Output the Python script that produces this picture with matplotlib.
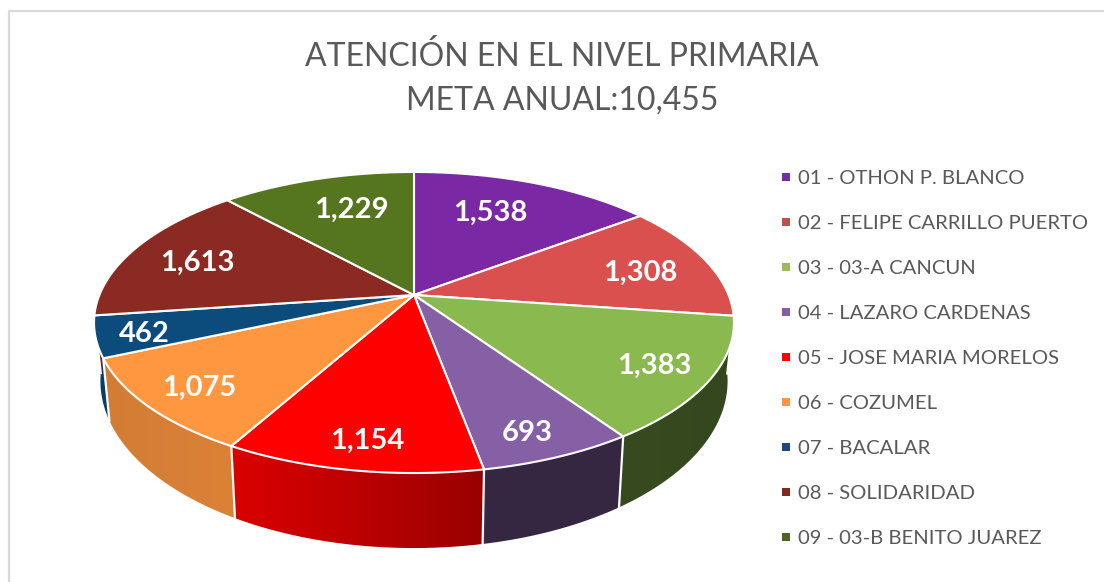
import numpy as np
from matplotlib import pyplot as plt
from matplotlib.colors import to_rgb
from matplotlib.patches import Polygon

# datos
municipios = ['01 - OTHON P. BLANCO', '02 - FELIPE CARRILLO PUERTO', '03 - 03-A CANCUN',
              '04 - LAZARO CARDENAS', '05 - JOSE MARIA MORELOS', '06 - COZUMEL',
              '07 - BACALAR', '08 - SOLIDARIDAD', '09 - 03-B BENITO JUAREZ']
valores = [1538, 1308, 1383, 693, 1154, 1075, 462, 1613, 1229]
colores = ['#7B28A4', '#D9504E', '#8ABA4F', '#8660A5', '#FF0000',
           '#FF9740', '#0B4C7C', '#8A2A22', '#55761F']
colores_leyenda = ['#7030A0', '#C0504D', '#9BBB59', '#8064A2', '#FF0000',
                   '#F79646', '#1F497D', '#7F2A20', '#4F6228']
pos_etiquetas = [(490, 211), (640, 271), (654, 364), (527, 431), (367, 439),
                 (199, 386), (144, 332), (197, 261), (351, 208)]

plt.rcParams['font.family'] = ['Lato', 'DejaVu Sans']
GRIS = '#595959'

fig = plt.figure(figsize=(11.04, 5.82), dpi=100)
ax = fig.add_axes([0, 0, 1, 1])
ax.axis('off')

# marco del grafico (sin lado derecho ni inferior, quedan fuera del recorte)
ax.plot([8.5, 8.5, 1104], [582, 10.5, 10.5], c='#D9D9D9', lw=1.6)

# perspectiva: circulo unidad -> pixeles
CX, CY, K, A, B = 414, 295, 0.1827, 145.5, 314.6


def tapa(t):
    x, y = np.sin(t), np.cos(t)
    w = 1 + K * y
    return CX + B * x / w, CY - A * y / w


def base(t):
    x, y = tapa(t)
    return CX + 0.98 * (x - CX), y + 75 - 0.11 * (473 - y)


def sombra(x):
    return np.interp(x, [95, 230, 414, 481, 486, 620, 734],
                     [0.82, 0.86, 0.68, 0.60, 0.40, 0.40, 0.38])


total = sum(valores)
limites = 2 * np.pi * np.cumsum([0] + valores) / total

# paredes laterales, con degradado horizontal recortado a cada porcion
columnas = np.arange(90, 740)
for i, color in enumerate(colores):
    t = np.linspace(limites[i], limites[i + 1], 80)
    if np.cos(t).min() > 0.2:
        continue
    xt, yt = tapa(t)
    xb, yb = base(t)
    pared = Polygon(np.c_[np.r_[xt, xb[::-1]], np.r_[yt, yb[::-1]]], transform=ax.transData,
                    fc='none', ec='none')
    ax.add_patch(pared)
    degradado = np.array(to_rgb(color))[None, None, :] * sombra(columnas)[None, :, None]
    im = ax.imshow(degradado, extent=(90, 740, 560, 300), aspect='auto', zorder=2,
                   interpolation='bilinear')
    im.set_clip_path(pared)

ax.set_xlim(0, 1104)
ax.set_ylim(582, 0)

# lineas blancas entre paredes (solo las del frente)
for ang in limites[:-1]:
    if np.cos(ang) < 0:
        xt, yt = tapa(ang)
        xb, yb = base(ang)
        ax.plot([xt, xb], [yt, yb], c='white', lw=1.6, zorder=3)

# tapa
for i, color in enumerate(colores):
    t = np.linspace(limites[i], limites[i + 1], 80)
    xt, yt = tapa(t)
    ax.fill(np.r_[CX, xt], np.r_[CY, yt], fc=color, ec='white', lw=1.5, joinstyle='round', zorder=4)

# etiquetas de datos
for v, (x, y) in zip(valores, pos_etiquetas):
    ax.text(x, y + 10, f'{v:,}', color='white', fontsize=21, fontweight='bold',
            ha='center', va='baseline', zorder=5)

# titulo
ax.text(562, 57, 'ATENCIÓN EN EL NIVEL PRIMARIA', color=GRIS, fontsize=23, ha='center', va='center')
ax.text(562, 101, 'META ANUAL:10,455', color=GRIS, fontsize=23, ha='center', va='center')

# leyenda
for i, nombre in enumerate(municipios):
    y = 177 + 45 * i
    ax.scatter([786], [y], marker='s', s=32, color=colores_leyenda[i], linewidths=0, zorder=5)
    ax.text(798, y + 7, nombre, color=GRIS, fontsize=14.6, ha='left', va='baseline')

fig.savefig('out.png', dpi=100)
